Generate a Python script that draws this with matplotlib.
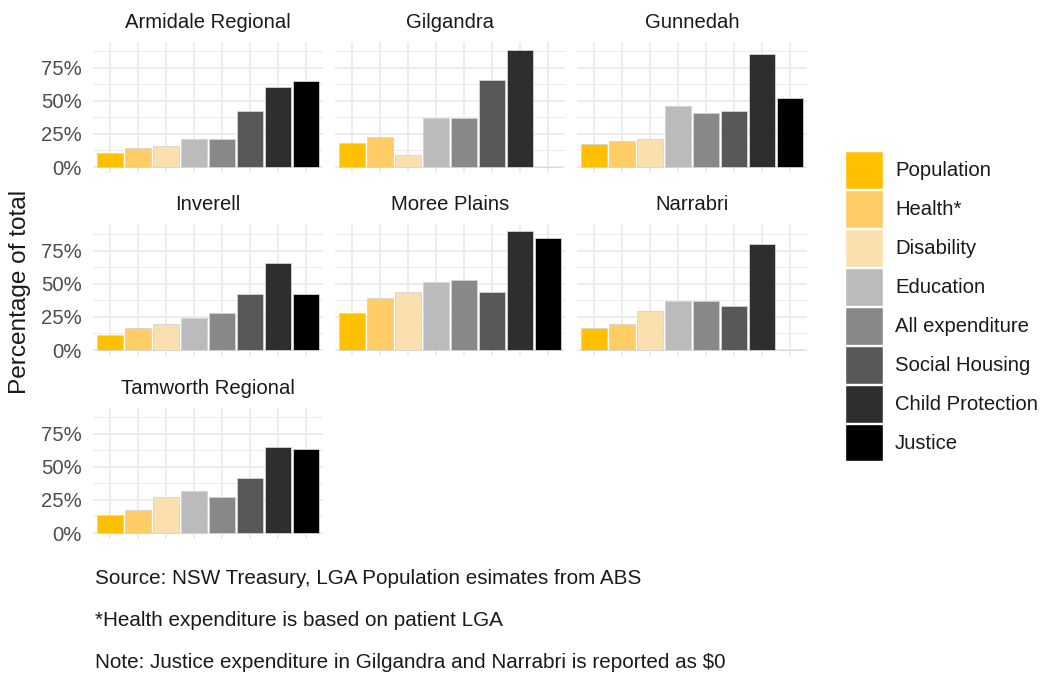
import numpy as np
import matplotlib
matplotlib.use("Agg")
import matplotlib.pyplot as plt
from matplotlib.patches import Patch

plt.rcParams['font.family'] = ['Liberation Sans', 'DejaVu Sans']

# Data (share of NSW total)
lgas = ["Armidale Regional", "Gilgandra", "Gunnedah", "Inverell",
        "Moree Plains", "Narrabri", "Tamworth Regional"]
measures = ["Population", "Health*", "Disability", "Education",
            "All expenditure", "Social Housing", "Child Protection", "Justice"]
colours = ["#FFC000", "#FFCC66", "#FCDFAE", "#BBBBBB",
           "#888888", "#585858", "#2E2E2E", "#000000"]

armidale = [0.104, 0.143, 0.160, 0.215, 0.215, 0.423, 0.607, 0.646]
gilgandra = [0.185, 0.229, 0.092, 0.369, 0.369, 0.658, 0.879, 0.0]
gunnedah = [0.173, 0.200, 0.215, 0.462, 0.406, 0.423, 0.854, 0.518]
inverell = [0.114, 0.169, 0.196, 0.238, 0.283, 0.422, 0.660, 0.422]
moree = [0.280, 0.390, 0.434, 0.516, 0.531, 0.434, 0.898, 0.844]
narrabri = [0.166, 0.196, 0.293, 0.367, 0.367, 0.335, 0.801, 0.0]
tamworth = [0.135, 0.174, 0.275, 0.314, 0.275, 0.415, 0.651, 0.636]
values = [armidale, gilgandra, gunnedah, inverell, moree, narrabri, tamworth]

captions = ["Source: NSW Treasury, LGA Population esimates from ABS",
            "*Health expenditure is based on patient LGA",
            "Note: Justice expenditure in Gilgandra and Narrabri is reported as $0"]

W, H = 1043, 676
fig = plt.figure(figsize=(W / 100, H / 100), dpi=100)

col_left = [93, 335, 577]
row_top = [42, 225, 408]
pw, ph = 230, 131
fs = 14.6

x = np.arange(len(measures))
for i, (name, vals) in enumerate(zip(lgas, values)):
    r, c = divmod(i, 3)
    ax = fig.add_axes([col_left[c] / W, 1 - (row_top[r] + ph) / H, pw / W, ph / H])
    ax.bar(x, vals, width=0.93, color=colours, edgecolor="#d4d4d4", linewidth=0.6, zorder=3)
    ax.set_xlim(-0.6, 7.6)
    ax.set_ylim(-0.045, 0.943)
    ax.set_xticks(x)
    ax.set_xticklabels([])
    ax.set_yticks([0, 0.25, 0.5, 0.75])
    ax.set_yticks([0.125, 0.375, 0.625, 0.875], minor=True)
    if c == 0:
        ax.set_yticklabels(["0%", "25%", "50%", "75%"], fontsize=fs, color="#4d4d4d")
    else:
        ax.set_yticklabels([])
    ax.tick_params(which="both", length=0, pad=8)
    ax.grid(which="major", color="#ebebeb", linewidth=1.3, zorder=0)
    ax.grid(which="minor", axis="y", color="#ebebeb", linewidth=0.7, zorder=0)
    for s in ax.spines.values():
        s.set_visible(False)
    ax.text(0.5, 1 + 20 / ph, name, transform=ax.transAxes, ha="center", va="center",
            fontsize=fs, color="#1a1a1a")

fig.text(20 / W, 1 - 292 / H, "Percentage of total", rotation=90, ha="center",
         va="center", fontsize=17.6, color="#1a1a1a")

for k, line in enumerate(captions):
    fig.text(95 / W, 1 - (578 + 42 * k) / H, line, ha="left", va="center",
             fontsize=14.9, color="#1a1a1a")

handles = [Patch(facecolor=col, edgecolor="white", linewidth=1) for col in colours]
fig.legend(handles, measures, loc="upper left", bbox_to_anchor=(845 / W, 1 - 151 / H),
           frameon=False, fontsize=fs, handlelength=1.87, handleheight=2.5,
           labelspacing=0.05, handletextpad=0.6, borderpad=0, borderaxespad=0,
           labelcolor="#1a1a1a")

fig.savefig("out.png", dpi=100, facecolor="white")
